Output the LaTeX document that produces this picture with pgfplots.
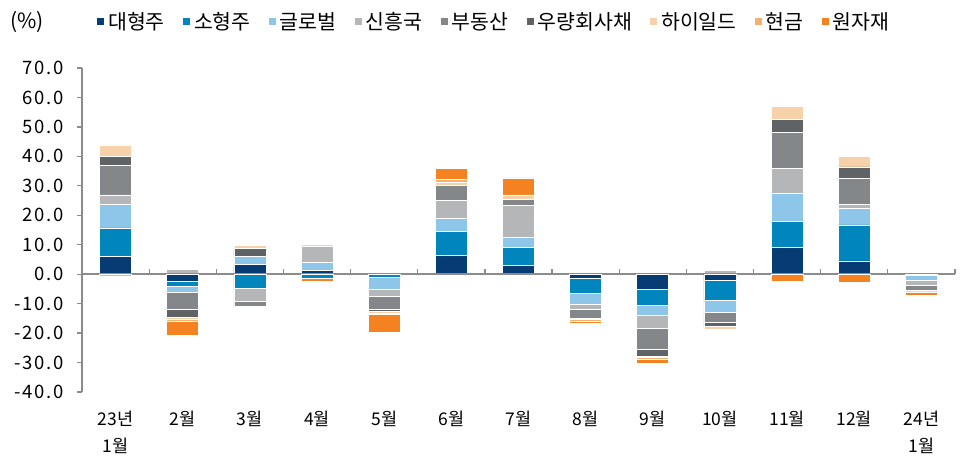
\documentclass[border=0pt]{standalone}
\usepackage{pgfplots}
\pgfplotsset{compat=1.18}
\usepackage{pgfplotstable}
\usepackage{fontspec}
\setmainfont{Noto Sans CJK KR}
\newfontfamily\numfont[LetterSpace=10]{Noto Sans CJK KR}

\definecolor{c1}{HTML}{073B74}
\definecolor{c2}{HTML}{0086BC}
\definecolor{c3}{HTML}{8DC6E8}
\definecolor{c4}{HTML}{B5B6B8}
\definecolor{c5}{HTML}{848789}
\definecolor{c6}{HTML}{5F6366}
\definecolor{c7}{HTML}{F6D1A9}
\definecolor{c8}{HTML}{F4B06E}
\definecolor{c9}{HTML}{F58220}
\definecolor{axisgray}{HTML}{8C8C8C}

% positive parts (stacked upward)
\pgfplotstableread{
x dh sh gl em re ig hy ca cm
0 6.0 9.7 8.1 3.1 10.1 3.0 3.9 0 0
1 0 0 0 1.6 0 0 0 0 0
2 3.3 0 2.8 0 0 2.7 0.9 0 0
3 1.3 0 2.8 5.4 0 0 0.6 0 0
4 0 0 0 0 0 0 0 0 0
5 6.5 8.0 4.6 5.9 5.2 0 1.0 1.0 3.7
6 3.0 6.2 3.2 10.9 2.0 0 1.6 0 5.8
7 0 0 0 0 0 0 0 0 0
8 0 0 0 0 0 0 0 0 0
9 0 0 0 1.2 0 0 0 0 0
10 9.0 9.0 9.5 8.5 12.0 4.5 4.4 0 0
11 4.5 12.2 5.6 1.5 8.8 3.8 3.5 0 0
12 0 0 0 0 0 0 0 0 0
}\postab

% negative parts (stacked downward)
\pgfplotstableread{
x dh sh gl em re ig hy ca cm
0 0 0 0 0 0 0 0 -0.6 0
1 -2.5 -1.7 -2.0 0 -5.9 -2.6 -0.6 -0.7 -4.8
2 0 -4.8 0 -4.4 -1.7 0 0 -0.5 0
3 0 -1.5 0 0 0 0 0 0 -1.0
4 0 -1.0 -4.1 -2.4 -4.3 -0.9 -0.5 -0.5 -6.0
5 0 0 0 0 0 0 0 0 0
6 0 0 0 0 0 0 0 0 0
7 -1.5 -5.1 -3.8 -1.4 -3.3 0 -0.4 -0.4 -0.9
8 -5.0 -5.7 -3.4 -4.3 -7.1 -2.4 -0.5 -0.5 -1.4
9 -2.1 -6.9 -4.1 0 -3.1 -1.5 -1.0 0 0
10 0 0 0 0 0 0 0 0 -2.5
11 0 0 0 0 0 0 0 0 -2.9
12 0 -0.4 -1.7 -1.6 -1.9 0 -0.7 0 -0.9
}\negtab

\newcommand{\lblfont}{\fontsize{17.5}{27}\selectfont}
\newcommand{\ytfont}{\numfont\fontsize{18.5}{22}\selectfont}
\newcommand{\legfont}{\fontsize{20.5}{24}\selectfont}

\pgfplotsset{
  mybase/.style={
    scale only axis, width=873pt, height=324pt,
    xmin=-0.5, xmax=12.5, ymin=-40, ymax=70,
    ybar stacked, bar width=32pt,
    every axis plot/.append style={draw=white, line width=0.7pt},
    every axis plot post/.append style={
      legend image code/.code={\fill[##1,draw=none] (0pt,-3.5pt) rectangle (7pt,3.5pt);}},
    clip=false,
  }
}

\begin{document}
\begin{tikzpicture}
\useasboundingbox (-82pt,-67pt) rectangle (890pt,392pt);
\begin{axis}[mybase,
  axis y line*=left, axis x line*=bottom,
  x axis line style={draw=none},
  xtick={0,...,12},
  xticklabels={{23년\\1월},2월,3월,4월,5월,6월,7월,8월,9월,10월,11월,12월,{24년\\1월}},
  xtick style={draw=none},
  xticklabel style={align=center, font=\lblfont, inner sep=0pt, anchor=north, yshift=-14pt},
  ytick={-40,-30,...,70},
  y axis line style={axisgray, line width=1.2pt},
  ytick style={axisgray, line width=1.2pt},
  tick align=outside, major tick length=5pt,
  yticklabel={\pgfmathprintnumber[fixed,fixed zerofill,precision=1,assume math mode=true]{\tick}},
  yticklabel style={font=\ytfont, inner sep=0pt, anchor=east, xshift=-13pt},
  legend columns=-1,
  legend style={draw=none, fill=none, font=\legfont, inner sep=0pt,
    at={(axis description cs:0.0172,1.142)}, anchor=west,
    /tikz/every odd column/.append style={column sep=2pt},
    /tikz/every even column/.append style={column sep=16.3pt}},
]
\addplot[fill=c1] table[x=x,y=dh]{\postab};
\addplot[fill=c2] table[x=x,y=sh]{\postab};
\addplot[fill=c3] table[x=x,y=gl]{\postab};
\addplot[fill=c4] table[x=x,y=em]{\postab};
\addplot[fill=c5] table[x=x,y=re]{\postab};
\addplot[fill=c6] table[x=x,y=ig]{\postab};
\addplot[fill=c7] table[x=x,y=hy]{\postab};
\addplot[fill=c8] table[x=x,y=ca]{\postab};
\addplot[fill=c9] table[x=x,y=cm]{\postab};
\legend{대형주,소형주,글로벌,신흥국,부동산,우량회사채,하이일드,현금,원자재}
\node[anchor=west, font={\fontsize{21}{24}\selectfont}, inner sep=0pt] at (axis description cs:-0.0825,1.142) {(\%)};
\end{axis}
\begin{axis}[mybase, hide axis]
\addplot[fill=c1] table[x=x,y=dh]{\negtab};
\addplot[fill=c2] table[x=x,y=sh]{\negtab};
\addplot[fill=c3] table[x=x,y=gl]{\negtab};
\addplot[fill=c4] table[x=x,y=em]{\negtab};
\addplot[fill=c5] table[x=x,y=re]{\negtab};
\addplot[fill=c6] table[x=x,y=ig]{\negtab};
\addplot[fill=c7] table[x=x,y=hy]{\negtab};
\addplot[fill=c8] table[x=x,y=ca]{\negtab};
\addplot[fill=c9] table[x=x,y=cm]{\negtab};
\draw[axisgray, line width=1.5pt] (axis cs:-0.5,0) -- (axis cs:12.5,0);
\pgfplotsinvokeforeach{0.5,1.5,...,12.5}{\draw[axisgray,line width=1.2pt] (axis cs:#1,0) -- ++(0pt,5pt);}
\end{axis}
\end{tikzpicture}
\end{document}
